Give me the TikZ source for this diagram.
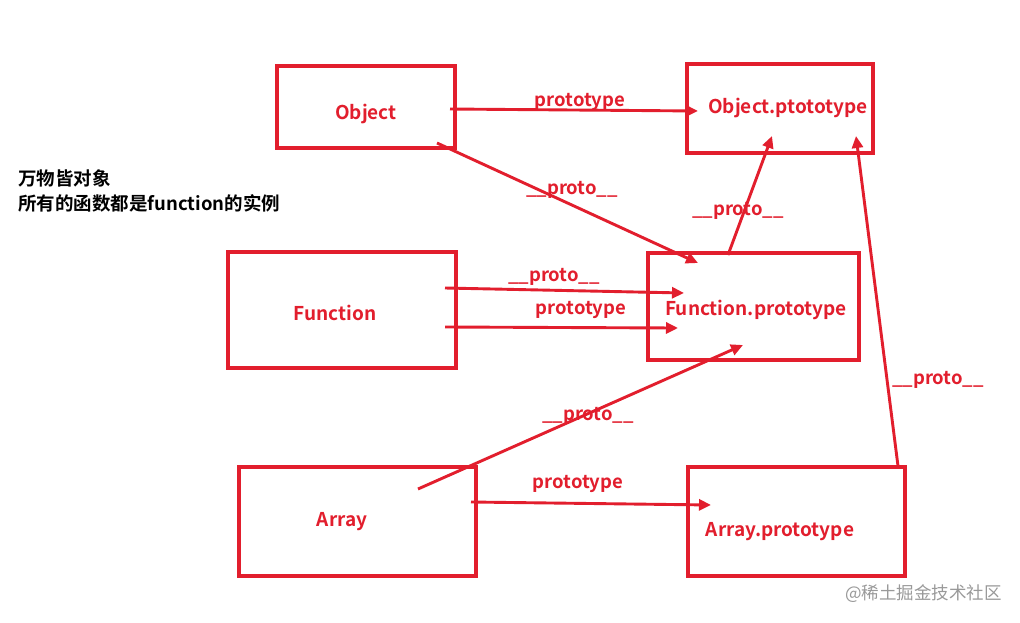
\documentclass[tikz,border=0pt]{standalone}
\usepackage{fontspec}
\setmainfont{Noto Sans CJK SC}[BoldFont={Noto Sans CJK SC Bold}]
\newfontfamily\cjkb{Noto Sans CJK SC Bold}
\usetikzlibrary{arrows.meta}
\definecolor{jsred}{RGB}{226,30,45}
\tikzset{
  box/.style={draw=jsred, line width=3.2pt, rectangle, inner sep=0pt},
  boxtext/.style={text=jsred, font=\cjkb\fontsize{19}{22}\selectfont, inner sep=0pt, anchor=center, yshift=-2pt},
  lbl/.style={text=jsred, font=\cjkb\fontsize{18.5}{22}\selectfont, inner sep=0pt, anchor=center, yshift=-2pt},
  link/.style={draw=jsred, line width=2.9pt, -{Triangle[length=12pt,width=11pt]}},
  note/.style={text=black, font=\cjkb\fontsize{18.5}{22}\selectfont, inner sep=0pt, anchor=west, yshift=-1pt},
}
\begin{document}
\begin{tikzpicture}[x=1pt,y=-1pt]
\useasboundingbox (0,0) rectangle (1020,622);
\fill[white] (0,0) rectangle (1020,622);
% boxes
\node[box, minimum width=178pt, minimum height=82pt] (obj) at (366,107) {};
\node[box, minimum width=186pt, minimum height=89pt] (objp) at (780,108.5) {};
\node[box, minimum width=228pt, minimum height=116pt] (fn) at (342,310) {};
\node[box, minimum width=211pt, minimum height=107pt] (fnp) at (753.5,306.5) {};
\node[box, minimum width=237pt, minimum height=109pt] (arr) at (357.5,521.5) {};
\node[box, minimum width=217pt, minimum height=109pt] (arrp) at (796.5,521.5) {};
% box texts
\node[boxtext] (tobj) at (366,112) {Object};
\node[boxtext] (tobjp) at (788,106) {Object.ptototype};
\node[boxtext] (tfn) at (335,311) {Function};
\node[boxtext] (tfnp) at (756,308) {Function.prototype};
\node[boxtext] (tarr) at (342,520) {Array};
\node[boxtext] (tarrp) at (780,530) {Array.prototype};
% left notes
\node[note] (n1) at (18,177) {万物皆对象};
\node[note] (n2) at (18,202) {所有的函数都是function的实例};
% connector end points
\coordinate (a1) at (450,109); \coordinate (b1) at (698,111);
\coordinate (a2) at (437,143); \coordinate (b2) at (698,263);
\coordinate (a3) at (728,255); \coordinate (b3) at (772,136);
\coordinate (a4) at (445,288); \coordinate (b4) at (684,293);
\coordinate (a5) at (445,327); \coordinate (b5) at (678,328);
\coordinate (a6) at (418,489); \coordinate (b6) at (743,345);
\coordinate (a7) at (471,502); \coordinate (b7) at (711,505);
\coordinate (a8) at (898,466); \coordinate (b8) at (856,136);
\draw[link] (a1) -- (b1);
\draw[link] (a2) -- (b2);
\draw[link] (a3) -- (b3);
\draw[link] (a4) -- (b4);
\draw[link] (a5) -- (b5);
\draw[link] (a6) -- (b6);
\draw[link] (a7) -- (b7);
\draw[link] (a8) -- (b8);
% labels
\node[lbl] (l1) at (580,100) {prototype};
\node[lbl] (l2) at (572,188) {\_\_proto\_\_};
\node[lbl] (l3) at (738,209) {\_\_proto\_\_};
\node[lbl] (l4) at (554,275) {\_\_proto\_\_};
\node[lbl] (l5) at (581,308) {prototype};
\node[lbl] (l6) at (588,414) {\_\_proto\_\_};
\node[lbl] (l7) at (578,482) {prototype};
\node[lbl] (l8) at (938,378) {\_\_proto\_\_};
% watermark
\node[text=black!40, font=\fontsize{17.5}{20}\selectfont, inner sep=0pt, anchor=east] (wm) at (1002,594) {@稀土掘金技术社区};
\end{tikzpicture}
\end{document}
